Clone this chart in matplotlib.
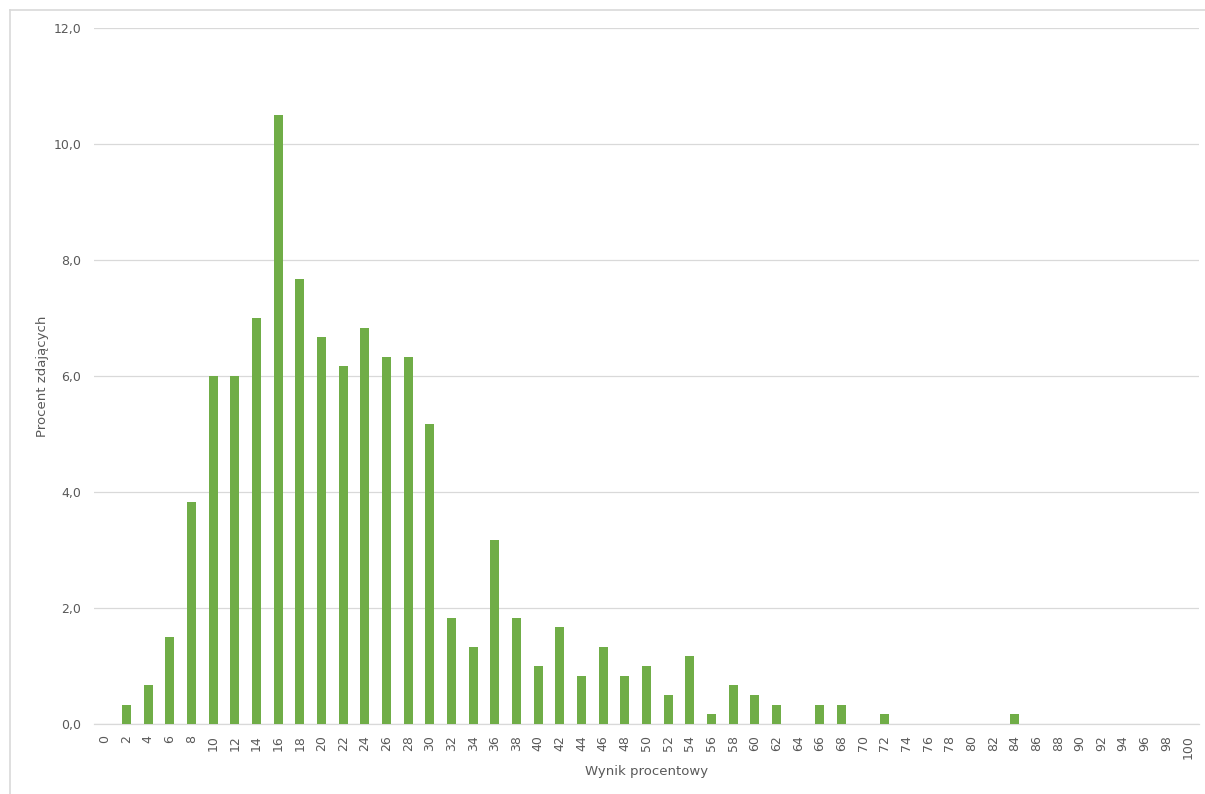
import matplotlib
matplotlib.use('Agg')
import matplotlib.pyplot as plt
import matplotlib.lines as mlines
import numpy as np

# categories: percentage score 0..100 step 2
scores = [str(s) for s in range(0, 101, 2)]
percent = [
    0.0, 0.33, 0.67, 1.5, 3.83, 6.0, 6.0, 7.0, 10.5, 7.67,
    6.67, 6.17, 6.83, 6.33, 6.33, 5.17, 1.83, 1.33, 3.17, 1.83,
    1.0, 1.67, 0.83, 1.33, 0.83, 1.0, 0.5, 1.17, 0.17, 0.67,
    0.5, 0.33, 0.0, 0.33, 0.33, 0.0, 0.17, 0.0, 0.0, 0.0,
    0.0, 0.0, 0.17, 0.0, 0.0, 0.0, 0.0, 0.0, 0.0, 0.0,
    0.0,
]
yticks = [0, 2, 4, 6, 8, 10, 12]

GREEN = '#70AD47'
GRID = '#D9D9D9'
TXT = '#595959'

fig = plt.figure(figsize=(12.05, 7.94), dpi=100)
ax = fig.add_axes([0.078, 0.0882, 0.917, 0.8765])

x = np.arange(len(scores))
ax.bar(x, percent, width=0.42, color=GREEN, zorder=3)

ax.set_xlim(-0.5, len(scores) - 0.5)
ax.set_ylim(0, 12)
ax.set_yticks(yticks)
ax.set_yticklabels([f'{v:.1f}'.replace('.', ',') for v in yticks], fontsize=9, color=TXT)
ax.set_xticks(x)
ax.set_xticklabels(scores, rotation=90, fontsize=9, color=TXT)
ax.tick_params(axis='x', length=0, pad=8)
ax.tick_params(axis='y', length=0, pad=9)
ax.grid(axis='y', color=GRID, linewidth=0.9, zorder=0)
for s in ['top', 'right', 'left']:
    ax.spines[s].set_visible(False)
ax.spines['bottom'].set_color(GRID)
ax.spines['bottom'].set_linewidth(0.9)

ax.set_xlabel('Wynik procentowy', fontsize=9.5, color=TXT, labelpad=4)
ax.set_ylabel('Procent zdających', fontsize=9.5, color=TXT, labelpad=3)

# outer chart frame
fx0, fy1 = 10 / 1205, 1 - 10 / 794
fig.add_artist(mlines.Line2D([fx0, 1], [fy1, fy1], color=GRID, linewidth=1.2))
fig.add_artist(mlines.Line2D([fx0, fx0], [0, fy1], color=GRID, linewidth=1.2))

fig.savefig('out.png', dpi=100)
